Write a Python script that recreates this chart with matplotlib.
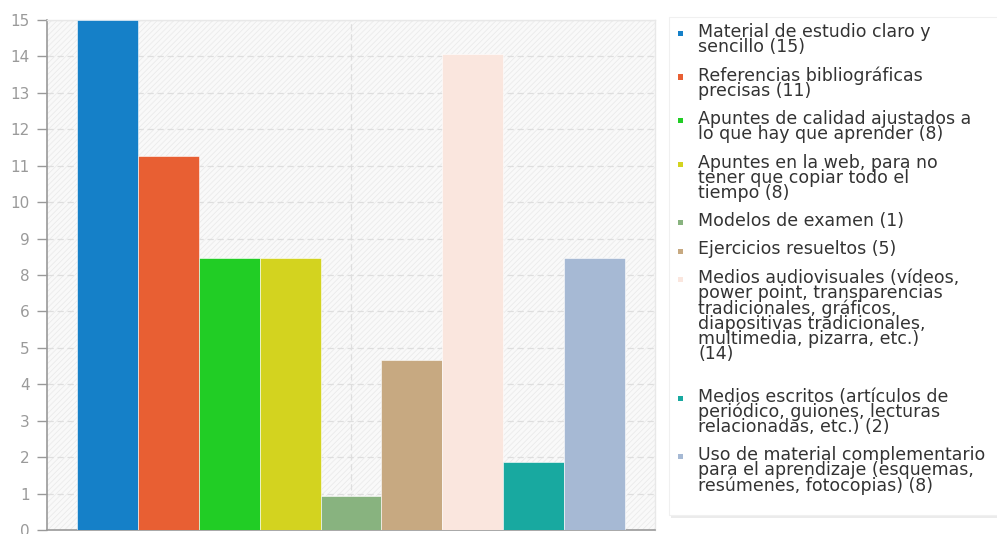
import numpy as np
import matplotlib
matplotlib.use("Agg")
import matplotlib.pyplot as plt
from matplotlib.patches import Rectangle

# Survey answers and how many people chose each
categories = [
    "Material de estudio claro y\nsencillo",
    "Referencias bibliográficas\nprecisas",
    "Apuntes de calidad ajustados a\nlo que hay que aprender",
    "Apuntes en la web, para no\ntener que copiar todo el\ntiempo",
    "Modelos de examen",
    "Ejercicios resueltos",
    "Medios audiovisuales (vídeos,\npower point, transparencias\ntradicionales, gráficos,\ndiapositivas tradicionales,\nmultimedia, pizarra, etc.)\n",
    "Medios escritos (artículos de\nperiódico, guiones, lecturas\nrelacionadas, etc.)",
    "Uso de material complementario\npara el aprendizaje (esquemas,\nresúmenes, fotocopias)",
]
values = [15, 11, 8, 8, 1, 5, 14, 2, 8]
colors = ["#1580c8", "#e85f33", "#21cd25", "#d3d31f", "#88b37f",
          "#c7a981", "#fae6de", "#18a9a0", "#a6b9d4"]

# Y axis: 15 evenly spaced gridlines between 0 and 15, labelled with rounded values
y_max = 15
y_ticks = np.linspace(0, y_max, 15)
y_tick_labels = ["0", "1", "2", "3", "4", "5", "6", "8", "9",
                 "10", "11", "12", "13", "14", "15"]

W, H = 997, 534
fig = plt.figure(figsize=(W / 100, H / 100), dpi=100)
ax = fig.add_axes([47 / W, 4 / H, (655 - 47) / W, (530 - 20) / H])

# hatched plot background
ax.set_facecolor("#f9f9f9")
plt.rcParams["hatch.color"] = "#ebebeb"
plt.rcParams["hatch.linewidth"] = 0.6
ax.add_patch(Rectangle((0, 0), 1, 1, transform=ax.transAxes, facecolor="none",
                       edgecolor="#ebebeb", hatch="//////", linewidth=0, zorder=0))

x = np.arange(len(values))
bars = ax.bar(x, values, width=1.0, color=colors, edgecolor="white",
              linewidth=0.4, zorder=3)

ax.set_xlim(-1, 9)
ax.set_ylim(0, y_max)
ax.set_yticks(y_ticks)
ax.set_yticklabels(y_tick_labels)
ax.set_xticks([])

# dashed grid
for yv in y_ticks[1:]:
    ax.axhline(yv, color="#dedede", linestyle=(0, (5, 3)), linewidth=0.9, zorder=1)
ax.axvline(4, color="#dedede", linestyle=(0, (5, 3)), linewidth=0.9, zorder=1)

ax.tick_params(axis="y", direction="out", length=7, width=1, color="#999999",
               labelcolor="#9a9a9a", labelsize=11, pad=5.5)
for side in ("left", "bottom"):
    ax.spines[side].set_color("#999999")
    ax.spines[side].set_linewidth(1.2)
for side in ("top", "right"):
    ax.spines[side].set_color("#e8e8e8")
    ax.spines[side].set_linewidth(1)

# ---- legend panel on the right ----
def fx(px):
    return px / W


def fy(py):
    return 1 - py / H


# soft shadow + white box
fig.add_artist(Rectangle((fx(671), fy(518)), fx(340), (518 - 19) / H,
                         transform=fig.transFigure, facecolor="#ebebeb",
                         edgecolor="none", zorder=1))
fig.add_artist(Rectangle((fx(669), fy(515)), fx(340), (515 - 17) / H,
                         transform=fig.transFigure, facecolor="white",
                         edgecolor="#f0f0f0", linewidth=0.8, zorder=2))

line_pitch = 15.0
entry_gap = 13.5
y = 33.0  # centre of the first text line, in pixels from the top
for cat, val, col in zip(categories, values, colors):
    label = f"{cat}({val})\n" if cat.endswith("\n") else f"{cat} ({val})"
    n_lines = label.count("\n") + 1
    fig.add_artist(Rectangle((fx(678), fy(y + 3)), fx(5), 5 / H,
                             transform=fig.transFigure, facecolor=col,
                             edgecolor="none", zorder=3))
    fig.text(fx(698), fy(y - 10), label.rstrip("\n"), fontsize=12.5,
             color="#333333", ha="left", va="top", linespacing=0.8, zorder=3)
    y += n_lines * line_pitch + entry_gap

fig.savefig("out.png", dpi=100)
